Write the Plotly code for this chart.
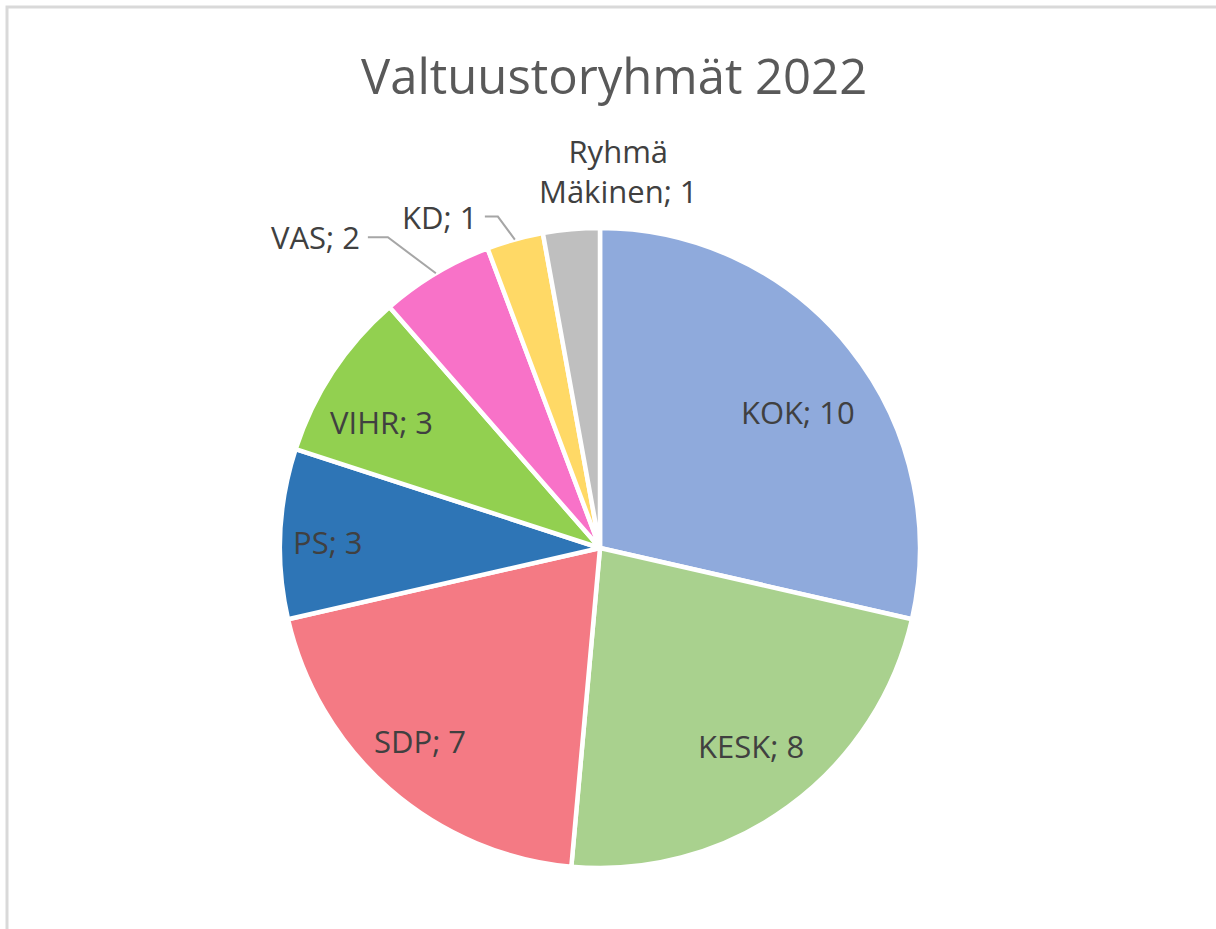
import math
import plotly.graph_objects as go

# ---- data ----
groups = ["KOK", "KESK", "SDP", "PS", "VIHR", "VAS", "KD", "Ryhmä Mäkinen"]
seats = [10, 8, 7, 3, 3, 2, 1, 1]
label_texts = ["KOK; 10", "KESK; 8", "SDP; 7", "PS; 3", "VIHR; 3", "VAS; 2", "KD; 1", "Ryhmä<br>Mäkinen; 1"]
colors = ["#8FAADC", "#A9D18E", "#F47A84", "#2E75B6", "#92D050", "#F872C8", "#FFD966", "#BFBFBF"]
title_text = "Valtuustoryhmät 2022"

# ---- layout geometry (pixels) ----
W, H = 1216, 929
CX, CY, R = 600, 548, 320
FONT = "Open Sans"
TXT = "#404040"
LABEL_SIZE = 31

# small pixel nudges for inside labels (style only)
nudge = {"KOK": (-2, 24), "KESK": (1, -9), "SDP": (-12, 0), "PS": (-16, 5), "VIHR": (-5, 15)}

def px(x):
    return x / W

def py(y):
    return 1 - y / H

fig = go.Figure(go.Pie(
    labels=groups,
    values=seats,
    sort=False,
    direction="clockwise",
    rotation=0,
    marker=dict(colors=colors, line=dict(color="white", width=4.5)),
    textinfo="none",
    hoverinfo="label+value",
    showlegend=False,
    domain=dict(x=[px(CX - R), px(CX + R)], y=[py(CY + R), py(CY - R)]),
))

total = sum(seats)
annotations = []
shapes = []

outside = {
    "VAS": dict(elbow=(-48, -36), hline=20),
    "KD": dict(elbow=(-17, -23), hline=13),
    "Ryhmä Mäkinen": dict(text_off=(47, -58)),
}

cum = 0
for g, v, t in zip(groups, seats, label_texts):
    a0 = cum / total * 2 * math.pi
    cum += v
    a1 = cum / total * 2 * math.pi
    am = (a0 + a1) / 2
    sx, sy = math.sin(am), -math.cos(am)
    if g in outside:
        o = outside[g]
        ex, ey = CX + R * sx, CY + R * sy
        if "elbow" in o:
            bx, by = ex + o["elbow"][0], ey + o["elbow"][1]
            lx = bx - o["hline"]
            shapes.append(dict(
                type="path", xref="paper", yref="paper",
                path=f"M {px(ex)} {py(ey)} L {px(bx)} {py(by)} L {px(lx)} {py(by)}",
                line=dict(color="#A6A6A6", width=2),
            ))
            annotations.append(dict(
                x=px(lx - 6), y=py(by), xref="paper", yref="paper",
                text=t, showarrow=False, xanchor="right", yanchor="middle",
                font=dict(family=FONT, size=LABEL_SIZE, color=TXT),
            ))
        else:
            tx, ty = ex + o["text_off"][0], ey + o["text_off"][1]
            annotations.append(dict(
                x=px(tx), y=py(ty), xref="paper", yref="paper",
                text=t, showarrow=False, xanchor="center", yanchor="middle",
                font=dict(family=FONT, size=LABEL_SIZE, color=TXT),
            ))
    else:
        rr = 0.8 * R
        dx, dy = nudge.get(g, (0, 0))
        annotations.append(dict(
            x=px(CX + rr * sx + dx), y=py(CY + rr * sy + dy), xref="paper", yref="paper",
            text=t, showarrow=False, xanchor="center", yanchor="middle",
            font=dict(family=FONT, size=LABEL_SIZE, color=TXT),
        ))

# title
annotations.append(dict(
    x=px(614), y=py(75), xref="paper", yref="paper",
    text=title_text, showarrow=False, xanchor="center", yanchor="middle",
    font=dict(family=FONT, size=49, color="#595959"),
))

# chart-area frame (extends past right/bottom edge)
shapes.append(dict(
    type="rect", xref="paper", yref="paper",
    x0=px(7), x1=px(W + 50), y0=py(H + 50), y1=py(7),
    line=dict(color="#D9D9D9", width=3), fillcolor="rgba(0,0,0,0)", layer="below",
))

fig.update_layout(
    width=W, height=H,
    margin=dict(l=0, r=0, t=0, b=0),
    paper_bgcolor="white",
    plot_bgcolor="white",
    annotations=annotations,
    shapes=shapes,
    font=dict(family=FONT, color=TXT),
)

fig.write_html(
    "out.html",
    config={"displayModeBar": False},
    post_script="document.body.style.margin='0';document.body.style.overflow='hidden';",
)
